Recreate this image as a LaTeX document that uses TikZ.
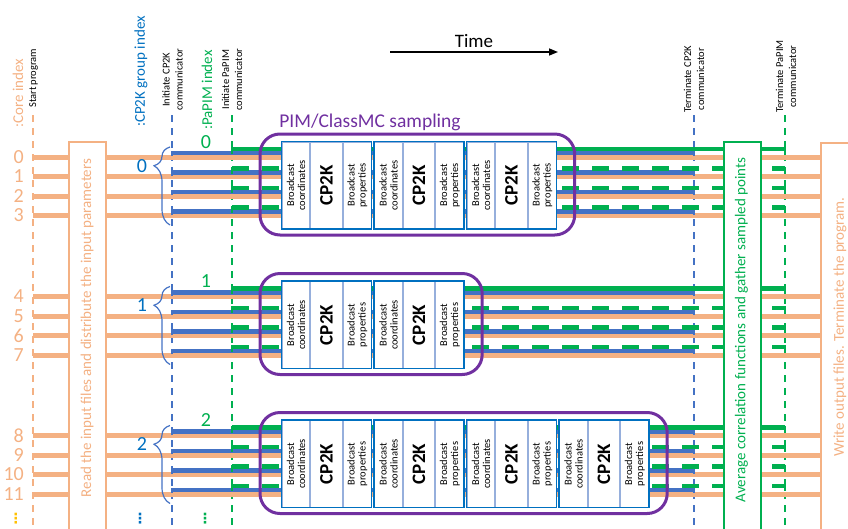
\documentclass[tikz,border=0pt]{standalone}
\usepackage{fontspec}
\setmainfont{Carlito}
\newfontfamily\symfont{DejaVu Sans}
\usetikzlibrary{decorations.pathreplacing,arrows.meta}
\definecolor{corange}{RGB}{244,177,131}
\definecolor{cblue}{RGB}{68,114,196}
\definecolor{cgreen}{RGB}{0,176,80}
\definecolor{cpurple}{RGB}{112,48,160}
\definecolor{cbox}{RGB}{0,112,192}
\definecolor{cdiv}{RGB}{150,175,220}
\definecolor{cgold}{RGB}{255,192,0}
\newcommand\fsz[2]{\fontsize{#1}{#2}\selectfont}
\begin{document}
\begin{tikzpicture}[x=1pt,y=-1pt,
  commline/.style={line width=1.7pt, dash pattern=on 7pt off 6pt},
  coreline/.style={corange, line width=5pt},
  cpline/.style={cblue, line width=4.5pt},
  pimline/.style={cgreen, line width=4.5pt},
  pimdash/.style={pimline, dash pattern=on 17pt off 13pt},
  stubline/.style={line width=1.5pt},
  vtext/.style={rotate=90, inner sep=0pt, align=center},
  note/.style={vtext, anchor=west, font=\fsz{10.5}{13}, text=black},
  header/.style={vtext, anchor=west, font=\fsz{15}{15}},
  longtext/.style={vtext, font=\fsz{15}{15}},
  stage/.style={draw, line width=1.5pt, fill=white, anchor=north west, inner sep=0pt},
  part/.style={draw=cdiv, line width=1pt, fill=white, inner sep=0pt, anchor=north west, minimum height=86.5pt},
  unittext/.style={vtext, font=\fsz{10.5}{11}},
  cpk/.style={vtext, font=\bfseries\fsz{19}{19}},
  purplebox/.style={cpurple, line width=3pt, rounded corners=20pt},
  bracestyle/.style={cblue, line width=1.2pt, decorate, decoration={brace, amplitude=16pt, aspect=0.76}},
  dots/.style={font=\symfont\bfseries\fsz{14}{14}, inner sep=0pt},
]
\useasboundingbox (0,0) rectangle (848,528);

% communicator / program lifetime markers
\coordinate (startT) at (33,115);   \coordinate (startB) at (33,528);
\coordinate (icpT) at (172,115);    \coordinate (icpB) at (172,528);
\coordinate (ipimT) at (232,115);   \coordinate (ipimB) at (232,528);
\coordinate (tcpT) at (694,115);    \coordinate (tcpB) at (694,528);
\coordinate (tpimT) at (785,115);   \coordinate (tpimB) at (785,528);
\draw[commline, corange] (startT) -- (startB);
\draw[commline, cblue] (icpT) -- (icpB);
\draw[commline, cgreen] (ipimT) -- (ipimB);
\draw[commline, cblue] (tcpT) -- (tcpB);
\draw[commline, cgreen] (tpimT) -- (tpimB);

% per-core timelines
\foreach \g/\Y in {0/157,1/296.5,2/435.5}{
  \foreach \r in {0,...,3}{
    \pgfmathsetmacro\y{\Y+19.5*\r}
    \pgfmathtruncatemacro\c{4*\g+\r}
    \node[anchor=east, text=corange, font=\fsz{20}{20}, inner sep=0pt] (core\c) at (24,\y) {\c};
    \draw[coreline] (33,\y) -- (820,\y);
    \draw[cpline] (172,\y-4) -- (694,\y-4);
    \draw[cblue, stubline] (172,\y-6) -- (172,\y-1) (694,\y-6) -- (694,\y-1);
    \ifnum\r=0
      \draw[pimline] (232,\y-8) -- (785,\y-8);
    \else
      \draw[pimdash] (232,\y-8) -- (785,\y-8);
    \fi
    \draw[cgreen, stubline] (232,\y-10) -- (232,\y-3) (785,\y-10) -- (785,\y-3);
  }
}

% program stages
\node[stage, draw=corange, minimum width=37pt, minimum height=400pt] (readbox) at (68,141) {};
\node[longtext, text=corange] (readtxt) at (87,328) {Read the input files and distribute the input parameters};
\node[stage, draw=cgreen, minimum width=37pt, minimum height=400pt] (avgbox) at (723,141) {};
\node[longtext, text=cgreen] (avgtxt) at (741.5,330) {Average correlation functions and gather sampled points};
\node[stage, draw=corange, minimum width=50pt, minimum height=400pt] (writebox) at (820,142) {};
\node[longtext, text=corange] (writetxt) at (840,327) {Write output files. Terminate the program.};

% sampling blocks of each PaPIM group
\foreach \g/\Y/\n in {0/157/3,1/296.5/2,2/435.5/4}{
  \pgfmathtruncatemacro\last{\n-1}
  \foreach \k in {0,...,\last}{
    \pgfmathsetmacro\ux{281.7+92.5*\k}
    \node[part, minimum width=27.5pt] (u\g-\k-a) at (\ux,\Y-15.3) {};
    \node[part, minimum width=31.7pt] (u\g-\k-b) at (u\g-\k-a.north east) {};
    \node[part, minimum width=27.8pt] (u\g-\k-c) at (u\g-\k-b.north east) {};
    \draw[cbox, line width=1.5pt] (u\g-\k-a.north west) rectangle (u\g-\k-c.south east);
    \node[unittext] at (u\g-\k-a) {Broadcast\\coordinates};
    \node[cpk] at (u\g-\k-b) {CP2K};
    \node[unittext] at (u\g-\k-c) {Broadcast\\properties};
  }
  \pgfmathsetmacro\px{281.7+92.5*\last+87+21}
  \draw[purplebox] (260,\Y-23) rectangle (\px,\Y+78);
  \draw[bracestyle] (170,\Y+68) -- (170,\Y-10);
  \node[text=cbox, font=\fsz{20}{20}, inner sep=0pt] (grp\g) at (142,\Y+9) {\g};
  \node[text=cgreen, font=\fsz{20}{20}, inner sep=0pt] (pim\g) at (206,\Y-15) {\g};
}

% headers
\node[header, text=corange] (hcore) at (18,128) {:Core index};
\node[header, text=cbox] (hgroup) at (141,127) {:CP2K group index};
\node[header, text=cgreen] (hpim) at (207,130) {:PaPIM index};
\node[note] (nstart) at (33.5,108) {Start program};
\node[note] (nicp) at (172.5,111) {Initiate CP2K\\communicator};
\node[note] (nipim) at (232,111) {Initiate PaPIM\\communicator};
\node[note] (ntcp) at (694,113) {Terminate CP2K\\communicator};
\node[note] (ntpim) at (786,113) {Terminate PaPIM\\communicator};

\node[text=cpurple, font=\fsz{19.5}{19.5}] (ptitle) at (370,122) {PIM/ClassMC sampling};

% time axis
\coordinate (tA) at (390,52);
\coordinate (tB) at (558,52);
\draw[line width=1.5pt, -{Triangle[length=9pt,width=7pt]}] (tA) -- (tB);
\node[font=\fsz{19}{19}] (timelbl) at (474,41) {Time};

% continuation marks
\node[dots, text=cgold] (dcore) at (16,519) {⋮};
\node[dots, text=cbox] (dgrp) at (140,519) {⋮};
\node[dots, text=cgreen] (dpim) at (205,519) {⋮};
\end{tikzpicture}
\end{document}
